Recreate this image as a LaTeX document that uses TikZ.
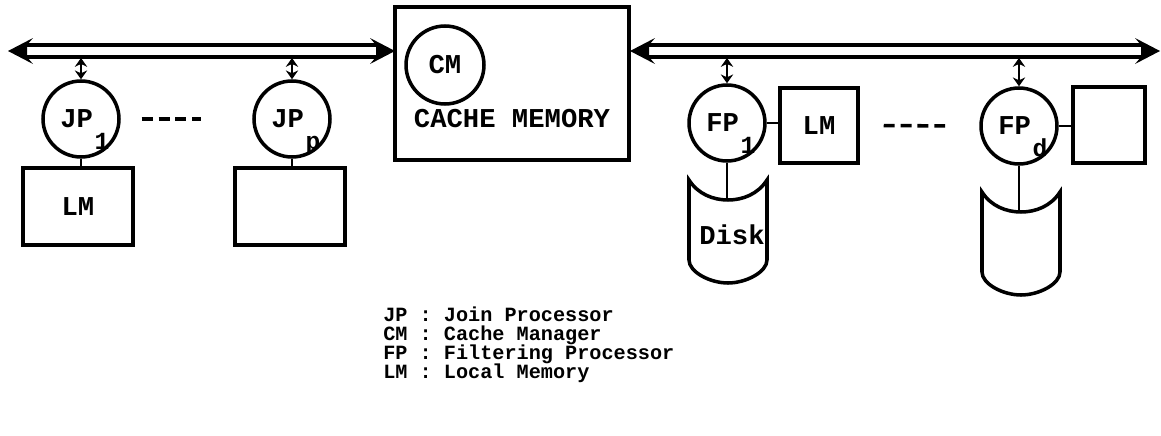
\documentclass[tikz,border=0pt]{standalone}
\usepackage{fontspec}
\setmainfont{Liberation Mono}
\usepackage{tikz}
\usetikzlibrary{arrows, arrows.meta}

\newcommand{\labelfont}{\fontsize{15.5}{15.5}\selectfont\bfseries}
\newcommand{\procname}[2]{\kern-5pt#1\rlap{\kern1pt\smash{\raisebox{-0.8em}{\fontsize{14}{14}\selectfont #2}}}}

\tikzstyle{proc} = [circle, minimum size=1.52cm, inner sep=0pt, draw=black, line width=2pt, font=\labelfont]
\tikzstyle{mem} = [rectangle, inner sep=0pt, draw=black, line width=2pt, font=\labelfont]
\tikzstyle{wire} = [line width=1.7pt]
\tikzstyle{tap} = [line width=1.7pt, {Stealth[length=5pt,width=7pt]}-{Stealth[length=5pt,width=7pt]}]
\tikzstyle{more} = [line width=2pt, dash pattern=on 6.2pt off 3.4pt]

% hollow bus with a filled head at both ends
\newcommand{\drawbus}[2]{%
  \fill (#1,51) -- ++(25,-13) -- ++(-6,7) -- ++(0,12) -- ++(6,7) -- cycle;
  \fill (#2,51) -- ++(-25,-13) -- ++(6,7) -- ++(0,12) -- ++(-6,7) -- cycle;
  \draw [line width=1.8pt] (#1+18,45) -- (#2-18,45) (#1+18,57) -- (#2-18,57);
}

\tikzset{disk/.pic={
  \draw [line width=2pt] (-39,0) .. controls (-30,14) and (-15,20) .. (0,20)
    .. controls (15,20) and (30,14) .. (39,0) -- (39,80)
    .. controls (39,92) and (18,103) .. (0,103)
    .. controls (-18,103) and (-39,92) .. (-39,80) -- cycle;
  \coordinate (-top) at (0,20);
}}

\begin{document}
\begin{tikzpicture}[x=0.02cm, y=-0.02cm]
\useasboundingbox (0,0) rectangle (1161,436);

% Buses
\drawbus{8}{395}
\drawbus{630}{1160}
\coordinate (tapjp1) at (81,58);
\coordinate (tapjpp) at (292,58);
\coordinate (tapfp1) at (727,58);
\coordinate (tapfpd) at (1019,58);

% Nodes
\node (jp1) [proc] at (81,119) {\procname{JP}{1}};
\node (jpp) [proc] at (292,119) {\procname{JP}{p}};
\node (lm1) [mem, minimum width=2.2cm, minimum height=1.54cm] at (78,206.5) {LM};
\node (lmp) [mem, minimum width=2.2cm, minimum height=1.54cm] at (290,206.5) {};

\node (cache) [mem, minimum width=4.68cm, minimum height=3.06cm] at (512,83.5) {};
\node (cm) [proc, minimum size=1.56cm] at (445,65) {CM};
\node (cachename) [font=\labelfont] at (512,119) {CACHE MEMORY};

\node (fp1) [proc] at (727,123) {\procname{FP}{1}};
\node (fplm1) [mem, minimum width=1.56cm, minimum height=1.5cm] at (819,125.5) {LM};
\pic (disk1) at (728,180) {disk};
\node (disklabel) [font=\labelfont] at (732,235) {Disk};

\node (fpd) [proc] at (1019,126) {\procname{FP}{d}};
\node (fplmd) [mem, minimum width=1.44cm, minimum height=1.52cm] at (1109,125) {};
\pic (diskd) at (1021,192) {disk};

\node (legend) [anchor=north west, align=left, inner sep=0pt, font=\fontsize{11.5}{10.8}\selectfont\bfseries] at (383,307)
  {JP : Join Processor\\CM : Cache Manager\\FP : Filtering Processor\\LM : Local Memory};

% Arrows
\draw [tap] (tapjp1) -- (jp1);
\draw [tap] (tapjpp) -- (jpp);
\draw [tap] (tapfp1) -- (fp1);
\draw [tap] (tapfpd) -- (fpd);
\draw [wire] (jp1.south) -- (jp1.south |- lm1.north);
\draw [wire] (jpp.south) -- (jpp.south |- lmp.north);
\draw [wire] (fp1) -- (fp1 -| fplm1.west);
\draw [wire] (fp1.south) -- (fp1.south |- disk1-top);
\draw [wire] (fpd) -- (fpd -| fplmd.west);
\draw [wire] (fpd.south) -- (fpd.south |- diskd-top);
\draw [more, shorten <=0.42cm, shorten >=1.02cm] (jp1) -- (jpp);
\draw [more, shorten <=0.48cm, shorten >=0.66cm] (fplm1) -- (fpd);

\end{tikzpicture}
\end{document}
